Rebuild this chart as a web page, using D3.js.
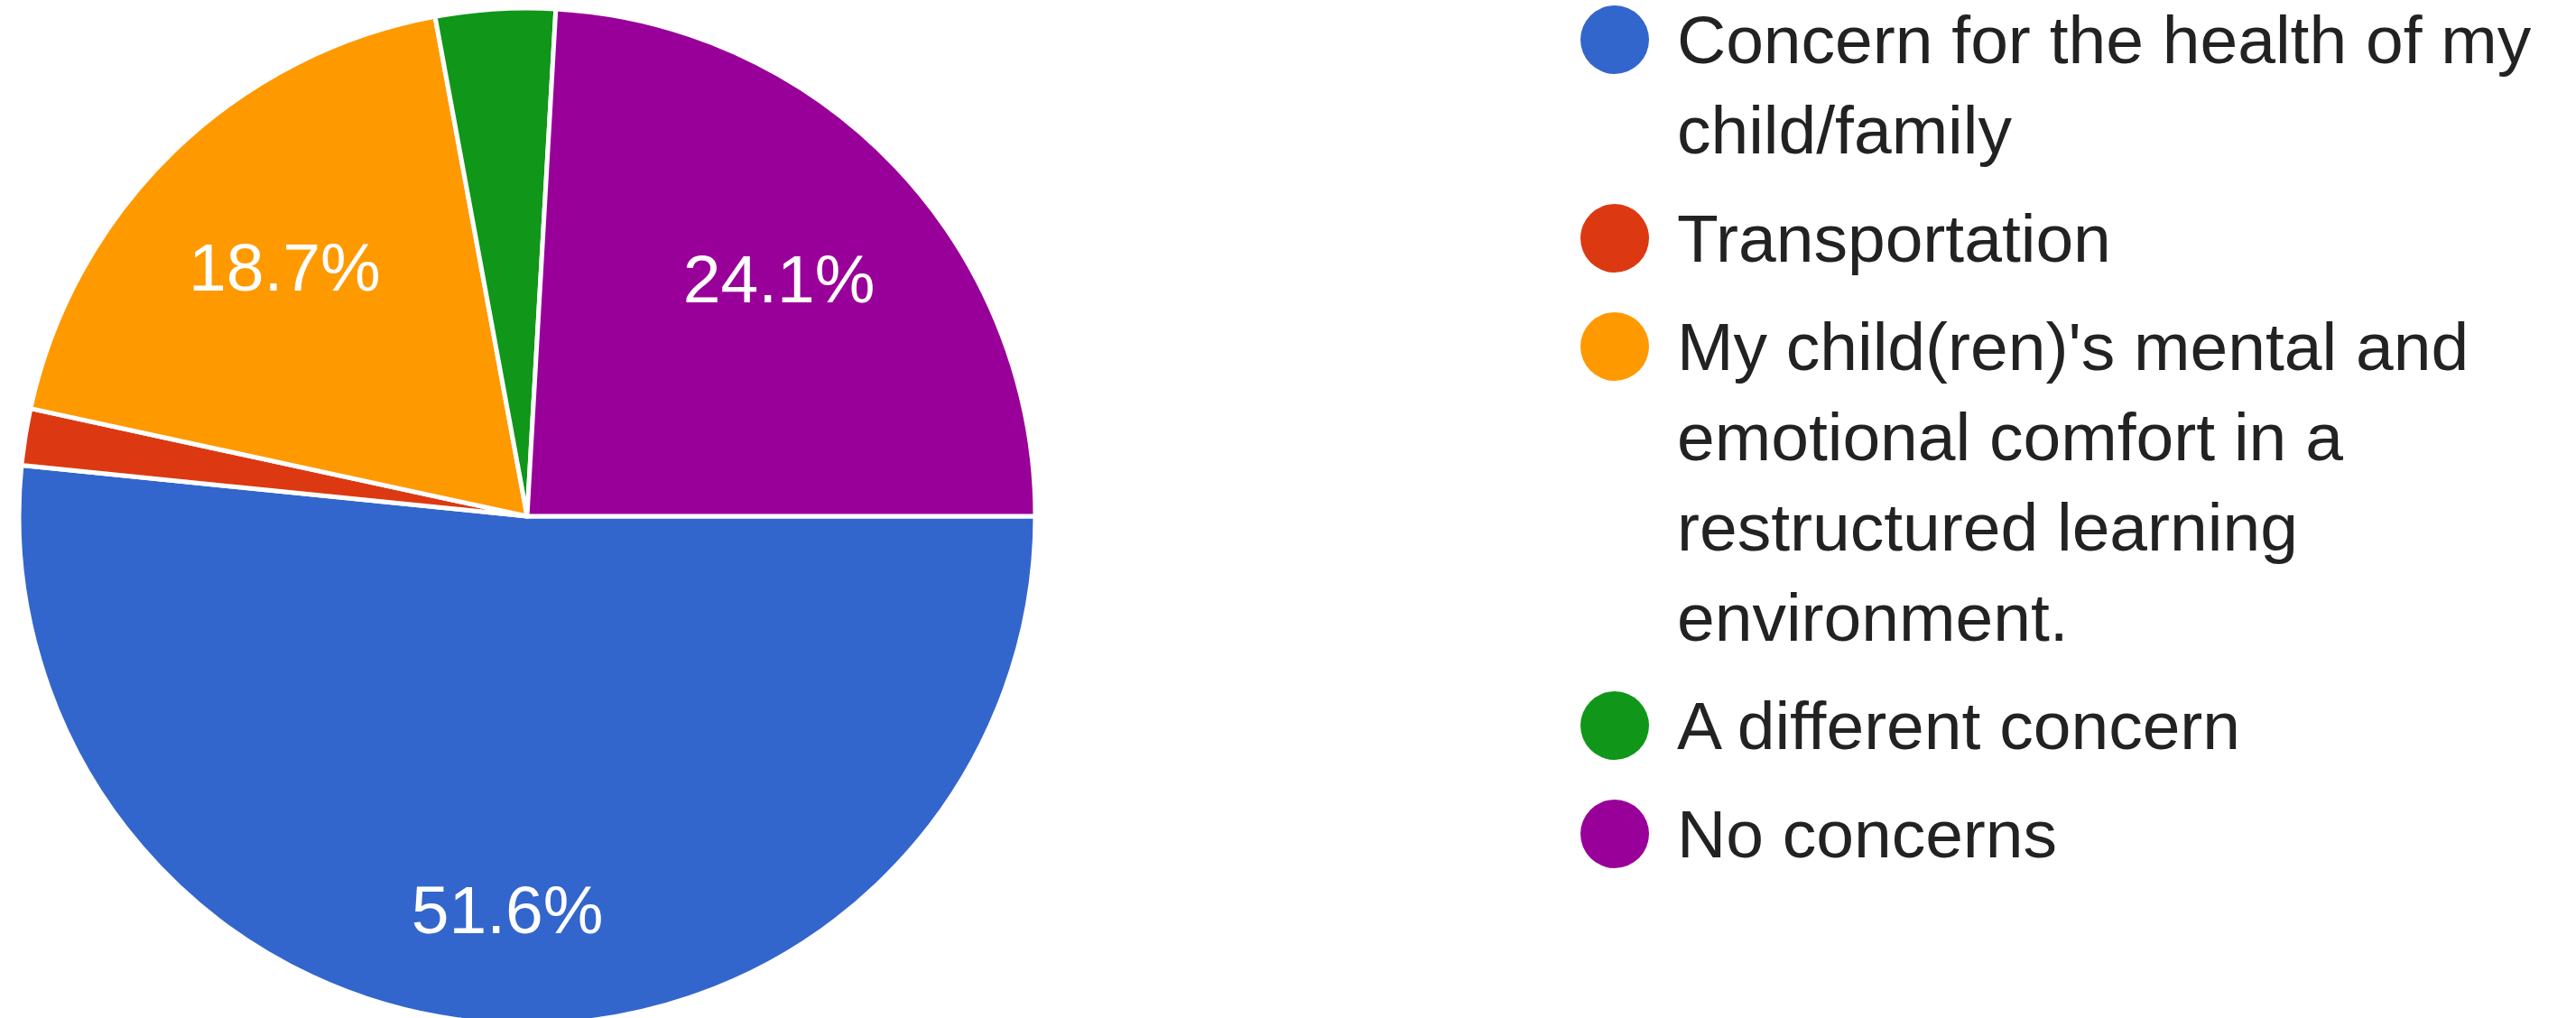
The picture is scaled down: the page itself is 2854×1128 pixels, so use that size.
<!DOCTYPE html>
<html>
<head>
<meta charset="utf-8">
<script src="https://cdn.jsdelivr.net/npm/d3@7"></script>
<style>
  body { margin: 0; background: #fff; }
  svg { display: block; }
  text { font-family: Arial, "Liberation Sans", sans-serif; }
</style>
</head>
<body>
<div id="chart"></div>
<script>
// --- Data ---
const categories = [
    "Concern for the health of my child/family",
    "Transportation",
    "My child(ren)'s mental and emotional comfort in a restructured learning environment.",
    "A different concern",
    "No concerns"
];
const shares = [51.6, 1.8, 18.7, 3.8, 24.1]; // percent
const colors = ["#3366cc", "#dc3912", "#ff9900", "#109618", "#990099"];

const width = 2854, height = 1128;
const cx = 584, cy = 572, radius = 563;
const fontSize = 75;

const svg = d3.select("#chart").append("svg")
    .attr("width", width).attr("height", height);

const data = categories.map((c, i) => ({ name: c, value: shares[i], color: colors[i] }));

// Google-style pie: first slice starts at 3 o'clock, clockwise
const pie = d3.pie().sort(null).value(d => d.value)
    .startAngle(Math.PI / 2).endAngle(Math.PI / 2 + 2 * Math.PI);
const arc = d3.arc().innerRadius(0).outerRadius(radius);

const g = svg.append("g").attr("transform", `translate(${cx},${cy})`);

g.selectAll("path.slice")
    .data(pie(data))
    .join("path")
    .attr("class", "slice")
    .attr("d", arc)
    .attr("fill", d => d.data.color)
    .attr("stroke", "#fff")
    .attr("stroke-width", 5)
    .attr("stroke-linejoin", "round");

// Percent labels - pushed out until the far corner of the text box hits 0.85r
const total = d3.sum(shares);
const labelLimit = radius * 0.85;
pie(data).forEach(d => {
    if (d.data.value / total < 0.1) return;
    const t = g.append("text")
        .attr("fill", "#fff")
        .attr("font-size", fontSize)
        .attr("text-anchor", "middle")
        .text(`${d.data.value.toFixed(1)}%`);
    const w = t.node().getComputedTextLength() * 0.95;
    const h = fontSize * 0.716;
    const mid = (d.startAngle + d.endAngle) / 2;
    const ux = Math.sin(mid), uy = -Math.cos(mid);
    const c = [Math.sign(ux) * w / 2, Math.sign(uy) * h / 2];
    const uc = ux * c[0] + uy * c[1];
    const dist = -uc + Math.sqrt(uc * uc - (c[0] * c[0] + c[1] * c[1]) + labelLimit * labelLimit);
    t.attr("x", ux * dist).attr("y", uy * dist + h / 2);
});

// --- Legend ---
const legendX = 1789, textX = 1858, firstBaseline = 70;
const lineHeight = 100, itemGap = 20, dotR = 38, maxTextWidth = 985;

const legend = svg.append("g");
let baseline = firstBaseline;

data.forEach(d => {
    legend.append("circle")
        .attr("cx", legendX).attr("cy", baseline - 26)
        .attr("r", dotR).attr("fill", d.color);

    const text = legend.append("text")
        .attr("x", textX).attr("y", baseline)
        .attr("font-size", fontSize)
        .attr("fill", "#222");

    // wrap words into lines
    const words = d.name.split(" ");
    let line = [];
    let tspan = text.append("tspan").attr("x", textX).attr("y", baseline);
    words.forEach(word => {
        line.push(word);
        tspan.text(line.join(" "));
        if (tspan.node().getComputedTextLength() > maxTextWidth && line.length > 1) {
            line.pop();
            tspan.text(line.join(" "));
            line = [word];
            baseline += lineHeight;
            tspan = text.append("tspan").attr("x", textX).attr("y", baseline).text(word);
        }
    });
    baseline += lineHeight + itemGap;
});
</script>
</body>
</html>
